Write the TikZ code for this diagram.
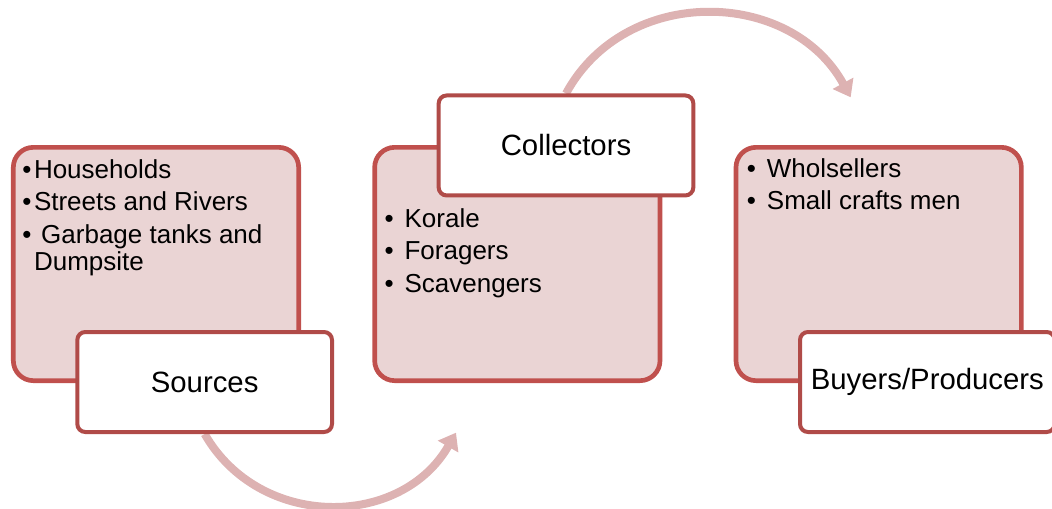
\documentclass[tikz,border=0pt]{standalone}
\usepackage{fontspec}
\setmainfont{Liberation Sans}
\usepackage{tikz}
\usetikzlibrary{positioning}
\usetikzlibrary{arrows.meta,backgrounds}
\definecolor{cy-edge}{HTML}{C0504D}
\definecolor{cy-tagedge}{HTML}{B04B48}
\definecolor{cy-fill}{HTML}{EAD4D4}
\definecolor{cy-flow}{HTML}{DDB2B2}

\newcommand{\itm}{\makebox[15pt][l]{\textbullet}}

\begin{document}
\begin{tikzpicture}[
    node distance=53.5pt, % gap between the three stage boxes
    >={Triangle[width=17pt,length=12pt]}
  ]

  % Styles for the stage boxes, their tags and the lists inside
  \tikzset{
    stage/.style={draw=cy-edge, fill=cy-fill, line width=3.5pt, rounded corners=15pt, minimum width=214pt, minimum height=175pt},
    tag/.style={draw=cy-tagedge, fill=white, line width=3pt, rounded corners=6pt, minimum width=191pt, minimum height=75pt, font=\fontsize{22}{26}\selectfont},
    items/.style={anchor=north west, inner sep=0pt, align=left, font=\fontsize{19.5}{20.5}\selectfont},
    flow/.style={->, cy-flow, line width=6pt}
  }

  \useasboundingbox (-117pt,-183pt) rectangle (672pt,198pt);

  % Three stages in a row
  \node (src) [stage] {};
  \node (col) [stage, right=of src] {};
  \node (buy) [stage, right=of col] {};

  % Lists of members
  \node (srclist) [items] at ([shift={(8.25pt,-10.5pt)}]src.north west)
    {\textbullet\kern2pt Households\\[3.9pt]
     \textbullet\kern2pt Streets and Rivers\\[3.9pt]
     \textbullet\ \kern2pt Garbage tanks and\\
     \hphantom{\textbullet\kern2pt}Dumpsite};
  \node (collist) [items] at ([shift={(9pt,-47.25pt)}]col.north west)
    {\itm Korale\\[3.9pt]
     \itm Foragers\\[3.9pt]
     \itm Scavengers};
  \node (buylist) [items] at ([shift={(9.75pt,-9.75pt)}]buy.north west)
    {\itm Wholsellers\\[3.9pt]
     \itm Small crafts men};

  % Tags over the stages
  \node (srctag) [tag] at ([shift={(36.5pt,-88.5pt)}]src.center) {Sources};
  \node (coltag) [tag] at ([shift={(36.5pt,88.9pt)}]col.center) {Collectors};
  \node (buytag) [tag] at ([shift={(36.5pt,-88.5pt)}]buy.center) {Buyers/Producers};

  % Free ends of the curved arrows
  \coordinate (lowtip) at ([shift={(-46pt,-126.5pt)}]col.center);
  \coordinate (hightip) at ([shift={(-21pt,125pt)}]buy.center);

  % Flow arrows, kept behind the tags
  \begin{scope}[on background layer]
    \draw[flow] (srctag.south) .. controls +(41.25pt,-72pt) and +(-41.25pt,-72pt) .. (lowtip);
    \draw[flow] (coltag.north) .. controls +(44.5pt,82pt) and +(-44.85pt,82pt) .. (hightip);
  \end{scope}

\end{tikzpicture}
\end{document}
